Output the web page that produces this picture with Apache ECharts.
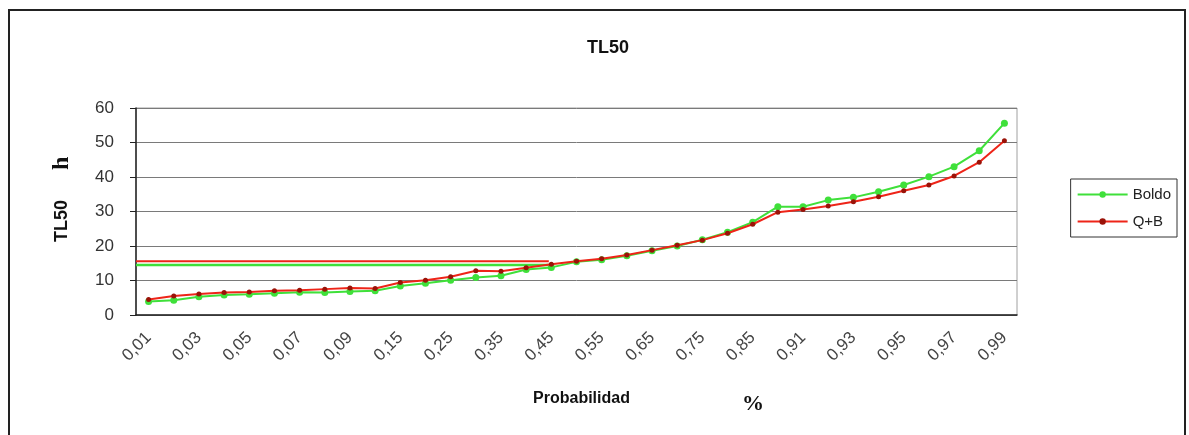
<!DOCTYPE html>
<html><head><meta charset="utf-8">
<script src="https://cdn.jsdelivr.net/npm/echarts@6/dist/echarts.min.js"></script>
<style>html,body{margin:0;padding:0;background:#fff;}#c{width:1189px;height:435px;}</style>
</head><body><div id="c"></div>
<script>
const categories = ['0,01','0,02','0,03','0,04','0,05','0,06','0,07','0,08','0,09','0,10',
  '0,15','0,20','0,25','0,30','0,35','0,40','0,45','0,50','0,55','0,60','0,65','0,70','0,75','0,80','0,85','0,90',
  '0,91','0,92','0,93','0,94','0,95','0,96','0,97','0,98','0,99'];
const boldo = [3.9,4.3,5.3,5.8,6.0,6.3,6.6,6.5,6.8,7.0,
  8.4,9.2,10.1,10.9,11.4,13.2,13.8,15.4,16.0,17.2,18.6,20.0,21.8,24.0,26.9,31.4,
  31.4,33.3,34.1,35.7,37.7,40.1,43.0,47.6,55.6];
const qb = [4.5,5.5,6.1,6.5,6.7,7.0,7.2,7.5,7.8,7.7,
  9.4,10.1,11.1,12.8,12.7,13.7,14.7,15.6,16.3,17.4,18.8,20.2,21.7,23.7,26.3,29.8,
  30.6,31.6,32.8,34.3,36.0,37.7,40.3,44.3,50.5];
const refBoldo = 14.5;   // horizontal reference (Boldo)
const refQB = 15.6;      // horizontal reference (Q+B)
const refEnd = 16.4;     // extent of the reference lines, in category bands
const yTicks = {min: 0, max: 60, interval: 10};

const GREEN = '#3fe03a', RED = '#ee2418', DRED = '#9a1208';
const chart = echarts.init(document.getElementById('c'));
chart.setOption({
  backgroundColor: '#fff',
  animation: false,
  title: {text: 'TL50', left: 603, top: 34, textAlign: 'center',
    textStyle: {fontFamily: 'Liberation Sans', fontSize: 18, fontWeight: 'bold', color: '#111'}},
  legend: {
    right: 12, top: 179, orient: 'vertical', itemGap: 12, padding: [8, 6, 8, 6],
    borderColor: '#333', borderWidth: 1, itemWidth: 50, itemHeight: 8,
    data: ['Boldo', 'Q+B'],
    textStyle: {fontFamily: 'Liberation Sans', fontSize: 15, color: '#222'}
  },
  grid: {left: 136, right: 172, top: 108, bottom: 120, show: true, borderColor: '#a0a0a0', borderWidth: 1},
  xAxis: [{
    type: 'category', data: categories, boundaryGap: true,
    name: 'Probabilidad', nameLocation: 'middle', nameGap: 76,
    nameTextStyle: {fontFamily: 'Liberation Sans', fontSize: 16, fontWeight: 'bold', color: '#111', padding: [0, 0, 0, 10]},
    axisLine: {lineStyle: {color: '#222', width: 1.5}},
    axisTick: {interval: 0, length: 5, lineStyle: {color: '#222'}},
    axisLabel: {interval: 1, rotate: 45, margin: 20, fontFamily: 'Liberation Sans', fontSize: 17, color: '#444'}
  }, {
    type: 'value', min: 0, max: categories.length, show: false
  }],
  yAxis: {
    type: 'value', min: yTicks.min, max: yTicks.max, interval: yTicks.interval,
    axisLine: {show: true, lineStyle: {color: '#222', width: 1.5}},
    axisTick: {show: true, length: 6, lineStyle: {color: '#222'}},
    axisLabel: {margin: 22, fontFamily: 'Liberation Sans', fontSize: 17, color: '#333'},
    splitLine: {lineStyle: {color: '#7a7a7a', width: 1}}
  },
  graphic: [
    {type: 'rect', shape: {x: 9, y: 10, width: 1176, height: 440}, style: {fill: 'none', stroke: '#222', lineWidth: 2}, silent: true},
    {type: 'text', x: 62, y: 242, rotation: Math.PI / 2,
      style: {text: 'TL50', font: 'bold 18px "Liberation Sans"', fill: '#111', textAlign: 'left', textVerticalAlign: 'middle'}},
    {type: 'text', x: 62, y: 170, rotation: Math.PI / 2,
      style: {text: 'h', font: 'bold 24px "Liberation Serif"', fill: '#111', textAlign: 'left', textVerticalAlign: 'middle'}},
    {type: 'text', x: 753, y: 404,
      style: {text: '%', font: 'bold 22px "Liberation Serif"', fill: '#111', textAlign: 'center', textVerticalAlign: 'middle'}}
  ],
  series: [
    {name: 'Boldo', type: 'line', data: boldo, symbol: 'circle', symbolSize: 7,
      lineStyle: {color: GREEN, width: 2}, itemStyle: {color: GREEN}, z: 2},
    {name: 'Q+B', type: 'line', data: qb, symbol: 'circle', symbolSize: 5,
      lineStyle: {color: RED, width: 2}, itemStyle: {color: DRED}, z: 3},
    {name: 'refBoldo', type: 'line', xAxisIndex: 1, data: [[0, refBoldo], [refEnd, refBoldo]],
      symbol: 'none', lineStyle: {color: GREEN, width: 2.5}, z: 1},
    {name: 'refQB', type: 'line', xAxisIndex: 1, data: [[0, refQB], [refEnd, refQB]],
      symbol: 'none', lineStyle: {color: RED, width: 2}, z: 1}
  ]
});
</script></body></html>
